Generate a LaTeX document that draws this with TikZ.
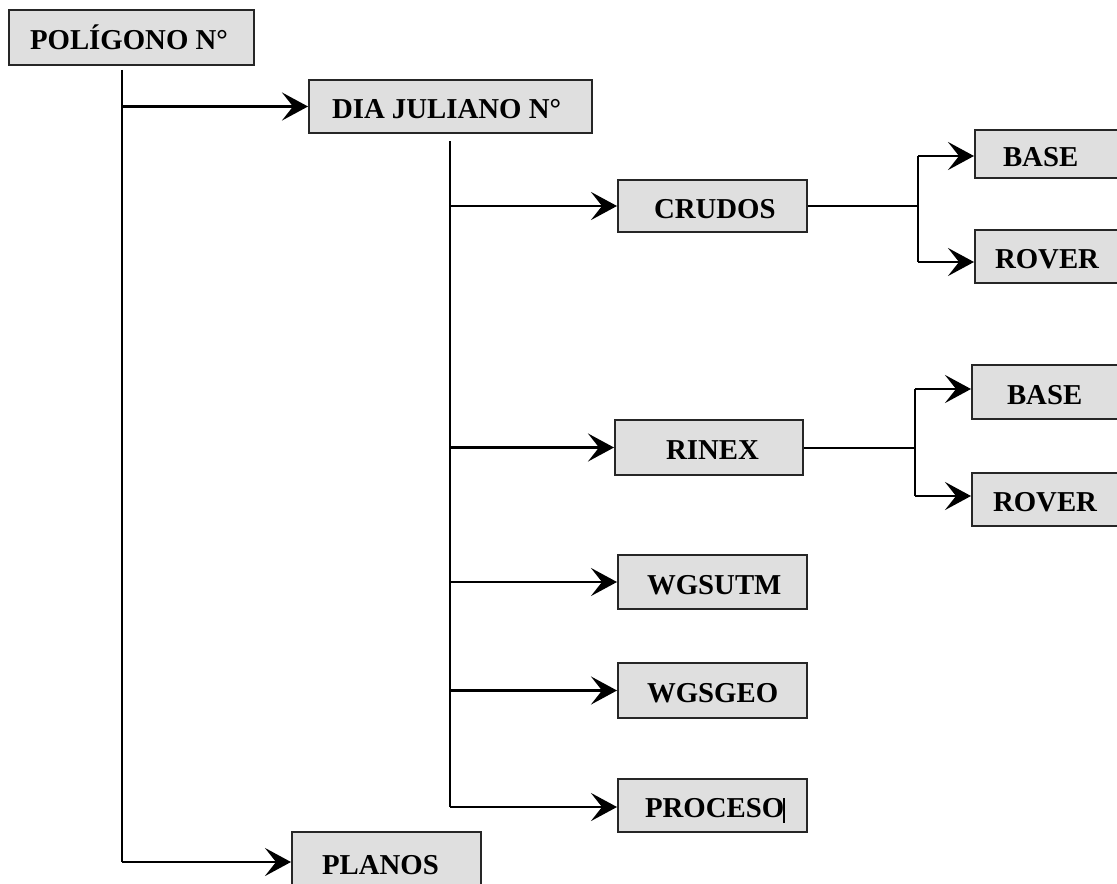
\documentclass[tikz,border=0pt]{standalone}
\usepackage{fontspec}
\setmainfont{Liberation Serif}
\usetikzlibrary{arrows.meta}
\newcommand{\boxtext}[3]{\makebox[#1][l]{\hspace*{#2}#3}}
\tikzset{
  fbox/.style={draw=black!85, line width=1pt, fill=gray!25, inner sep=0pt,
    font=\bfseries\fontsize{14.4}{17}\selectfont, text height=12.2pt, text depth=0pt},
  arr/.style={line width=1.4pt, -{Stealth[length=13pt, width=14pt, inset=5.5pt]}},
  plain/.style={line width=1pt}
}
\begin{document}
\begin{tikzpicture}[x=0.5pt, y=-0.5pt]
\useasboundingbox (0,0) rectangle (1117,883);
% boxes
\node[fbox, minimum height=27.5pt] (pol) at (131.5,37.5) {\boxtext{122.5pt}{10.5pt}{POLÍGONO N°}};
\node[fbox, minimum height=26.5pt] (dia) at (450.5,106.5) {\boxtext{141.5pt}{11.5pt}{DIA JULIANO N°}};
\node[fbox, minimum height=26pt] (crudos) at (712.5,206) {\boxtext{94.5pt}{18pt}{CRUDOS}};
\node[fbox, minimum height=24pt] (base1) at (1055,154) {\boxtext{80pt}{14pt}{BASE}};
\node[fbox, minimum height=26.5pt] (rover1) at (1055,256.5) {\boxtext{80pt}{10pt}{ROVER}};
\node[fbox, minimum height=27.5pt] (rinex) at (709,447.5) {\boxtext{94pt}{25.5pt}{RINEX}};
\node[fbox, minimum height=27pt] (base2) at (1052,392) {\boxtext{80pt}{17.5pt}{BASE}};
\node[fbox, minimum height=26.5pt] (rover2) at (1052,499.5) {\boxtext{80pt}{10.5pt}{ROVER}};
\node[fbox, minimum height=27pt] (wgsutm) at (712.5,582) {\boxtext{94.5pt}{14.5pt}{WGSUTM}};
\node[fbox, minimum height=27.5pt] (wgsgeo) at (712.5,690.5) {\boxtext{94.5pt}{14.5pt}{WGSGEO}};
\node[fbox, minimum height=26.5pt] (proceso) at (712.5,805.5) {\boxtext{94.5pt}{13.5pt}{PROCESO}};
\node[fbox, minimum height=30pt] (planos) at (386.5,862) {\boxtext{94.5pt}{15pt}{PLANOS}};
% main trunk
\coordinate (v1t) at (122,70);
\coordinate (v1b) at (122,862);
\draw[plain] (v1t) -- (v1b);
\draw[arr] (dia.west -| v1t) -- (dia.west);
\draw[arr] (v1b) -- (v1b -| planos.west);
% second trunk
\coordinate (v2t) at (450,141);
\coordinate (v2b) at (450,807);
\draw[plain] (v2t) -- (v2b);
\draw[arr] (crudos.west -| v2t) -- (crudos.west);
\draw[arr] (rinex.west -| v2t) -- (rinex.west);
\draw[arr] (wgsutm.west -| v2t) -- (wgsutm.west);
\draw[arr] (wgsgeo.west -| v2t) -- (wgsgeo.west);
\draw[arr] (v2b) -- (v2b -| proceso.west);
% crudos branch
\coordinate (b1t) at (918,156);
\coordinate (b1b) at (918,262);
\draw[plain] (crudos.east) -- (crudos.east -| b1t);
\draw[plain] (b1t) -- (b1b);
\draw[arr] (b1t) -- (b1t -| base1.west);
\draw[arr] (b1b) -- (b1b -| rover1.west);
% rinex branch
\coordinate (b2t) at (915,389);
\coordinate (b2b) at (915,496);
\draw[plain] (rinex.east) -- (rinex.east -| b2t);
\draw[plain] (b2t) -- (b2b);
\draw[arr] (b2t) -- (b2t -| base2.west);
\draw[arr] (b2b) -- (b2b -| rover2.west);
% text cursor mark in PROCESO
\draw[line width=0.6pt] (784,798) -- (784,823);
\end{tikzpicture}
\end{document}
